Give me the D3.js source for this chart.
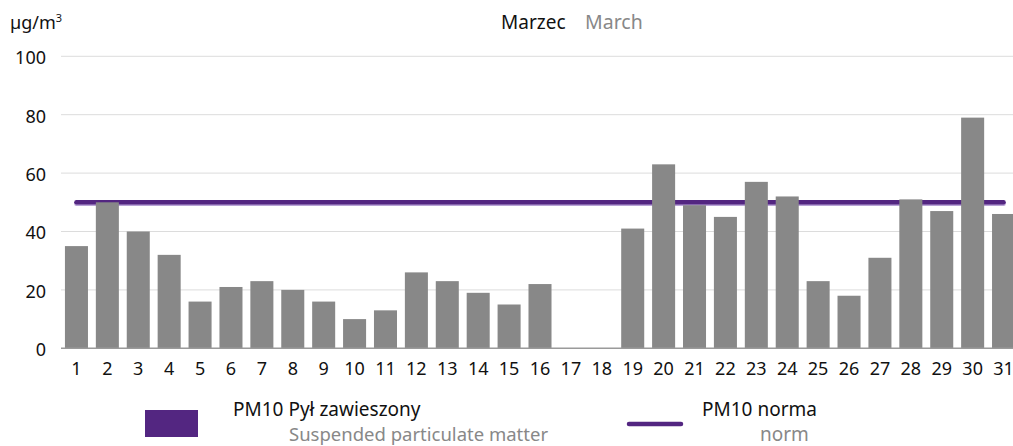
<!DOCTYPE html>
<html>
<head>
<meta charset="utf-8">
<script src="https://cdn.jsdelivr.net/npm/d3@7"></script>
<style>
  html, body { margin: 0; padding: 0; background: #fff; overflow: hidden; }
  svg { display: block; font-family: "Noto Sans", "Open Sans", sans-serif; }
</style>
</head>
<body>
<svg id="chart" width="1013" height="446"></svg>
<script>
// Daily PM10 concentrations for March (µg/m³); days 17–18 have no measurement
const days = d3.range(1, 32).map(String);
const pm10 = [35, 50, 40, 32, 16, 21, 23, 20, 16, 10, 13, 26, 23, 19, 15, 22,
              0, 0, 41, 63, 49, 45, 57, 52, 23, 18, 31, 51, 47, 79, 46];
const normValue = 50;
const yTicks = [0, 20, 40, 60, 80, 100];

const svg = d3.select("#chart");

const x = d3.scaleBand()
  .domain(days)
  .range([61, 1019])
  .paddingInner(0.255)
  .paddingOuter(0.1275);

const y = d3.scaleLinear()
  .domain([0, 100])
  .range([348.3, 56.3]);

// horizontal gridlines
svg.append("g")
  .selectAll("line")
  .data(yTicks.filter(d => d > 0))
  .join("line")
  .attr("x1", 61).attr("x2", 1013)
  .attr("y1", d => y(d)).attr("y2", d => y(d))
  .attr("stroke", "#dcdcdc").attr("stroke-width", 1);

// y tick labels
svg.append("g")
  .selectAll("text")
  .data(yTicks)
  .join("text")
  .attr("x", 46)
  .attr("y", d => y(d) + 3)
  .attr("text-anchor", "end")
  .attr("dominant-baseline", "middle")
  .attr("font-size", 18)
  .attr("fill", "#111")
  .text(d => d);

// PM10 norm line spanning first to last day (drawn under the bars)
const nx1 = x(days[0]) + x.bandwidth() / 2;
const nx2 = x(days[days.length - 1]) + x.bandwidth() / 2;
svg.append("line")
  .attr("x1", nx1).attr("x2", nx2)
  .attr("y1", y(normValue) + 1.5).attr("y2", y(normValue) + 1.5)
  .attr("stroke", "#b9a3d6").attr("stroke-width", 4.5)
  .attr("stroke-linecap", "round");
svg.append("line")
  .attr("x1", nx1).attr("x2", nx2)
  .attr("y1", y(normValue)).attr("y2", y(normValue))
  .attr("stroke", "#532681").attr("stroke-width", 4.5)
  .attr("stroke-linecap", "round");

// bars
svg.append("g")
  .selectAll("rect")
  .data(pm10)
  .join("rect")
  .attr("x", (d, i) => x(days[i]))
  .attr("width", x.bandwidth())
  .attr("y", d => y(d))
  .attr("height", d => y(0) - y(d))
  .attr("fill", "#888888");

// baseline
svg.append("line")
  .attr("x1", 61).attr("x2", 1013)
  .attr("y1", y(0)).attr("y2", y(0))
  .attr("stroke", "#9a9a9a").attr("stroke-width", 1.5);

// x tick labels
svg.append("g")
  .selectAll("text")
  .data(days)
  .join("text")
  .attr("x", d => x(d) + x.bandwidth() / 2)
  .attr("y", 375)
  .attr("text-anchor", "middle")
  .attr("font-size", 18)
  .attr("fill", "#111")
  .text(d => d);

// unit label
const unit = svg.append("text")
  .attr("x", 10).attr("y", 29)
  .attr("font-size", 18).attr("fill", "#111");
unit.append("tspan").text("µg/m");
unit.append("tspan").attr("font-size", 11).attr("dy", -7).text("3");

// title
svg.append("text")
  .attr("x", 501).attr("y", 29)
  .attr("font-size", 19).attr("fill", "#111")
  .text("Marzec");
svg.append("text")
  .attr("x", 585).attr("y", 29)
  .attr("font-size", 19.5).attr("fill", "#888")
  .text("March");

// legend
const legend = svg.append("g");
legend.append("rect")
  .attr("x", 145).attr("y", 410).attr("width", 53).attr("height", 27)
  .attr("fill", "#532681");
legend.append("text")
  .attr("x", 233).attr("y", 416)
  .attr("font-size", 19).attr("fill", "#111")
  .text("PM10 Pył zawieszony");
legend.append("text")
  .attr("x", 289).attr("y", 441)
  .attr("font-size", 18.5).attr("fill", "#888")
  .text("Suspended particulate matter");

legend.append("line")
  .attr("x1", 629).attr("x2", 681)
  .attr("y1", 424).attr("y2", 424)
  .attr("stroke", "#532681").attr("stroke-width", 4.5)
  .attr("stroke-linecap", "round");
legend.append("text")
  .attr("x", 702).attr("y", 416)
  .attr("font-size", 19).attr("fill", "#111")
  .text("PM10 norma");
legend.append("text")
  .attr("x", 760).attr("y", 441)
  .attr("font-size", 19).attr("fill", "#888")
  .text("norm");
</script>
</body>
</html>
